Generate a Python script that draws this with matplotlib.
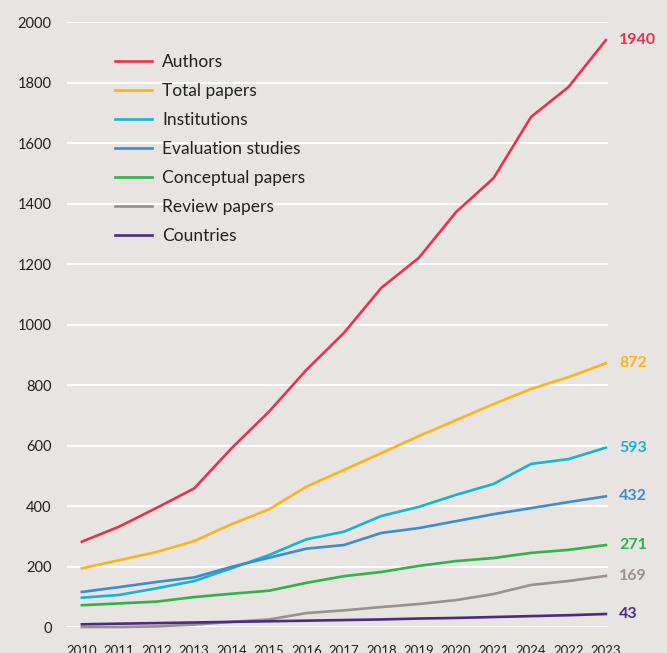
import numpy as np
import matplotlib.pyplot as plt

plt.rcParams['font.family'] = ['Lato', 'DejaVu Sans']

# tick labels as printed on the original (it shows 2024 before 2022)
year_labels = ['2010', '2011', '2012', '2013', '2014', '2015', '2016', '2017',
               '2018', '2019', '2020', '2021', '2024', '2022', '2023']

authors = [282, 332, 394, 458, 591, 712, 850, 972, 1121, 1220, 1372, 1484, 1686, 1785, 1940]
total_papers = [194, 221, 248, 284, 340, 389, 464, 519, 575, 631, 684, 737, 787, 826, 872]
institutions = [97, 106, 128, 152, 194, 238, 290, 315, 367, 397, 437, 473, 539, 555, 593]
evaluation = [116, 132, 149, 164, 199, 229, 259, 271, 311, 327, 350, 373, 393, 413, 432]
conceptual = [72, 78, 84, 99, 110, 120, 146, 168, 182, 202, 218, 228, 245, 255, 271]
review = [0, 0, 2, 8, 17, 25, 46, 55, 66, 76, 89, 109, 139, 152, 169]
countries = [9, 11, 13, 15, 17, 19, 21, 23, 25, 28, 30, 33, 36, 39, 43]

# one point per printed label, spread evenly over 2010-2023
x = np.linspace(2010, 2023, len(year_labels))

series = [
    ('Authors', authors, '#e8314f'),
    ('Total papers', total_papers, '#fbb419'),
    ('Institutions', institutions, '#12b5d4'),
    ('Evaluation studies', evaluation, '#3b8dd0'),
    ('Conceptual papers', conceptual, '#2fb34b'),
    ('Review papers', review, '#9a918e'),
    ('Countries', countries, '#4c2a85'),
]

bg = '#e7e4e1'
fig = plt.figure(figsize=(6.67, 6.53), dpi=100, facecolor=bg)
ax = fig.add_axes([0.1004, 0.0398, 0.811, 0.9265], facecolor=bg)

for name, vals, col in series:
    ax.plot(x, vals, color=col, lw=1.9, label=name, clip_on=False, zorder=3)
    ax.annotate(str(vals[-1]), (x[-1], vals[-1]), xytext=(9.5, 0),
                textcoords='offset points', color=col, fontsize=11.5,
                fontweight='bold', va='center', ha='left', annotation_clip=False)

ax.set_xlim(2009.63, 2023.05)
ax.set_ylim(0, 2000)
ax.set_yticks(range(0, 2001, 200))
ax.set_xticks(x)
ax.set_xticklabels(year_labels)
ax.grid(axis='y', color='white', lw=1.5, zorder=1)
ax.set_axisbelow(True)
for s in ax.spines.values():
    s.set_visible(False)
ax.tick_params(axis='both', length=0, colors='#222222')
ax.tick_params(axis='y', labelsize=10.5, pad=11)
ax.tick_params(axis='x', labelsize=9.5, pad=13)

ax.legend(loc='upper left', bbox_to_anchor=(0.089, 0.947), frameon=False,
          fontsize=12.5, handlelength=2.13, handletextpad=0.57, labelspacing=0.745,
          borderpad=0, borderaxespad=0, labelcolor='#222222')

fig.savefig('out.png', dpi=100, facecolor=bg)
